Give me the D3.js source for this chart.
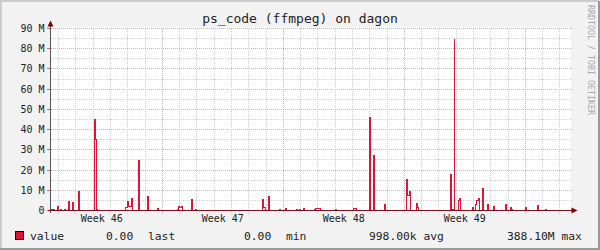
<!DOCTYPE html>
<html>
<head>
    <meta charset='utf-8' />
    <title>ps_code (ffmpeg) on dagon</title>
    <style>
      body { margin: 0; background: #fff; }
      text { font-family: "DejaVu Sans Mono", monospace; }
    </style>
</head>
<body>
<div id="wrapper"></div>
<script src='https://d3js.org/d3.v7.min.js' charset='utf-8'></script>
<script>
// rrdtool style monthly graph, redrawn with d3
const width = 600
const height = 250

// time window of the graph
const startTime = new Date(2008, 10, 10, 13, 28)
const endTime = new Date(2008, 11, 10, 15, 28)

// step series: hours after startTime where the value changes, and the new value (in M)
const stepHours = [
    0, 4.9, 9.0, 10.4, 13.2, 14.6, 18.7, 20.1, 24.3, 25.7,
    29.9, 31.2, 38.2, 39.6, 60.4, 61.8, 63.6, 65.0, 103.4, 106.2,
    107.6, 111.8, 113.2, 121.5, 122.9, 134.0, 135.4, 147.9, 149.3, 175.6,
    177.0, 179.1, 181.2, 182.6, 195.1, 196.5, 200.6, 202.0, 293.7, 295.1,
    297.8, 302.0, 303.4, 317.3, 318.7, 325.6, 327.0, 340.9, 342.3, 345.0,
    346.4, 350.6, 352.0, 365.9, 367.3, 374.2, 395.0, 396.4, 420.0, 424.2,
    442.2, 443.6, 447.8, 449.2, 463.1, 464.4, 493.6, 495.0, 497.8, 499.2,
    507.5, 508.9, 510.3, 554.7, 556.1, 559.6, 560.9, 565.8, 567.2, 568.6,
    585.2, 586.6, 589.4, 590.8, 593.6, 595.0, 599.1, 600.5, 606.1, 607.5,
    614.4, 615.8, 631.1, 632.5, 638.0, 639.4, 640.8, 658.8, 660.2, 675.5,
    676.9, 686.6, 688.0, 722
]
const stepValues = [
    0.6, 0, 2.1, 0, 0.6, 0, 0.6, 0, 4.6, 0,
    4.1, 0, 9.6, 0, 44.8, 34.9, 0.6, 0, 1.6, 4.6,
    2.1, 6.1, 0, 24.9, 0, 7.1, 0, 1.1, 0, 0.6,
    2.1, 1.3, 2.1, 0, 5.6, 0, 0.6, 0, 5.6, 1.6,
    0, 7.1, 0, 0.6, 0, 1.1, 0, 0.6, 0, 0.6,
    0, 1.1, 0, 0.6, 1.1, 0, 0.6, 0, 1.1, 0,
    46.2, 0, 27.4, 0, 3.1, 0, 15.1, 7.6, 9.6, 0,
    3.6, 1.6, 0, 18, 0.6, 84.8, 0, 5.1, 6.1, 0,
    1.6, 0, 3.1, 5.1, 6.1, 0, 11, 0, 3.1, 0,
    2.1, 0, 3.1, 0, 1.6, 0.6, 0, 1.6, 0, 2.6,
    0, 0.6, 0, 0
]

const yTicks = [0, 10, 20, 30, 40, 50, 60, 70, 80, 90]
const yTickLabels = ['0', '10 M', '20 M', '30 M', '40 M', '50 M', '60 M', '70 M', '80 M', '90 M']
const weekLabels = ['Week 46', 'Week 47', 'Week 48', 'Week 49']

const title = 'ps_code (ffmpeg) on dagon'
const legendName = 'value'
const legendParts = [
    ['0.00', 106], ['last', 148], ['0.00', 244], ['min', 286],
    ['998.00k avg', 369], ['388.10M max', 507]
]

const x = d3.scaleTime().domain([startTime, endTime]).range([51, 571])
const y = d3.scaleLinear().domain([0, 90]).range([210.5, 28.5])

const svg = d3.select('#wrapper').append('svg')
    .attr('width', width)
    .attr('height', height)

// frame
svg.append('rect').attr('width', width).attr('height', height).attr('fill', '#f2f2f2')
svg.append('path').attr('d', 'M0,1H599M1,0V249').attr('stroke', '#cbcbcb').attr('stroke-width', 2)
svg.append('path').attr('d', 'M0,249H600M599,1V250').attr('stroke', '#999').attr('stroke-width', 2)

// canvas
svg.append('rect')
    .attr('x', x.range()[0]).attr('y', y(90) - 1)
    .attr('width', x.range()[1] - x.range()[0])
    .attr('height', y(0) - y(90) + 1)
    .attr('fill', '#fff')

const grid = svg.append('g').attr('shape-rendering', 'crispEdges')

// horizontal grid, every 5 M
const hLines = d3.range(5, 91, 5)
grid.selectAll('.hgrid').data(hLines).enter().append('line')
    .attr('x1', x.range()[0]).attr('x2', x.range()[1] + 1)
    .attr('y1', d => y(d)).attr('y2', d => y(d))
    .attr('stroke', d => d % 10 === 0 ? '#eaa3a3' : '#cfcfcf')
    .attr('stroke-dasharray', '1,1')

// vertical grid, each day, monday in red
const days = d3.timeDay.range(d3.timeDay.ceil(startTime), endTime)
grid.selectAll('.vgrid').data(days).enter().append('line')
    .attr('x1', d => Math.floor(x(d)) + 0.5).attr('x2', d => Math.floor(x(d)) + 0.5)
    .attr('y1', y(90)).attr('y2', y(0) + 3)
    .attr('stroke', d => d.getDay() === 1 ? '#eaa3a3' : '#cfcfcf')
    .attr('stroke-dasharray', '1,1')

// left ticks
grid.selectAll('.ytick').data(yTicks).enter().append('line')
    .attr('x1', 47).attr('x2', 51)
    .attr('y1', d => y(d)).attr('y2', d => y(d))
    .attr('stroke', '#c07070')

// data line
const series = stepHours.map((h, i) => ({
    t: new Date(startTime.getTime() + h * 3600e3),
    v: stepValues[i]
}))
const line = d3.line()
    .x(d => x(d.t))
    .y(d => y(d.v))
    .curve(d3.curveStepAfter)

svg.append('path')
    .datum(series)
    .attr('d', line)
    .attr('fill', 'none')
    .attr('stroke', '#dc143c')
    .attr('stroke-width', 1)
    .attr('shape-rendering', 'crispEdges')

// axes
svg.append('line')
    .attr('x1', 50.5).attr('x2', 50.5).attr('y1', y(0) + 2).attr('y2', 25)
    .attr('stroke', '#555').attr('shape-rendering', 'crispEdges')
svg.append('line')
    .attr('x1', 48).attr('x2', 572).attr('y1', y(0)).attr('y2', y(0))
    .attr('stroke', '#7a1020').attr('shape-rendering', 'crispEdges')
svg.append('path').attr('d', 'M47.5,26.5L53.5,26.5L50.5,20.5Z').attr('fill', '#7f0000')
svg.append('path').attr('d', 'M571.5,207.5L571.5,213.5L577.5,210.5Z').attr('fill', '#7f0000')

// y labels
svg.selectAll('.ylabel').data(yTicks).enter().append('text')
    .attr('x', 44.5)
    .attr('y', d => y(d) + 3.5)
    .attr('text-anchor', 'end')
    .attr('font-size', '10px')
    .attr('fill', '#222')
    .text((d, i) => yTickLabels[i])

// week labels, centred in the middle of each week
const mondays = d3.timeMonday.range(d3.timeMonday.floor(startTime), endTime).slice(0, weekLabels.length)
svg.selectAll('.xlabel').data(mondays).enter().append('text')
    .attr('x', d => x(new Date(d.getTime() + 3.5 * 864e5)))
    .attr('y', 222)
    .attr('text-anchor', 'middle')
    .attr('font-size', '10px')
    .attr('fill', '#222')
    .text((d, i) => weekLabels[i])

// title
svg.append('text')
    .attr('x', 300).attr('y', 23)
    .attr('text-anchor', 'middle')
    .attr('font-size', '13px')
    .attr('fill', '#222')
    .text(title)

// watermark
svg.append('text')
    .attr('transform', 'translate(587.5,5) rotate(90)')
    .attr('font-size', '8.3px')
    .attr('fill', '#a8a8a8')
    .text('RRDTOOL / TOBI OETIKER')

// legend
svg.append('rect')
    .attr('x', 15.5).attr('y', 231.5).attr('width', 8).attr('height', 8)
    .attr('fill', '#dc143c').attr('stroke', '#000')
svg.append('text')
    .attr('x', 30).attr('y', 240)
    .attr('font-size', '11.3px')
    .attr('fill', '#222')
    .text(legendName)
svg.selectAll('.legend').data(legendParts).enter().append('text')
    .attr('x', d => d[1]).attr('y', 240)
    .attr('font-size', '11.3px')
    .attr('fill', '#222')
    .text(d => d[0])
</script>
</body>
</html>
